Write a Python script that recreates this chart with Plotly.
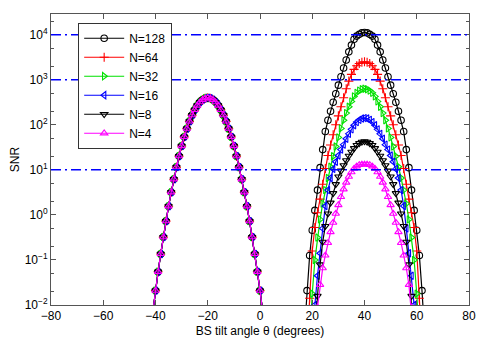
import plotly.graph_objects as go

# tilt angle grid (degrees): left lobe and right lobe
theta_left = list(range(-42, 3))
theta_right = list(range(17, 64))

# left lobe is the same for every N
left_lobe = [0.0026, 0.0076, 0.0209, 0.0546, 0.136, 0.322, 0.726, 1.56, 3.18, 6.19,
             11.5, 20.2, 33.9, 54.1, 82.2, 119, 164, 215, 269, 319, 361, 388,
             398,
             388, 361, 319, 269, 215, 164, 119, 82.2, 54.1, 33.9, 20.2, 11.5,
             6.19, 3.18, 1.56, 0.726, 0.322, 0.136, 0.0546, 0.0209, 0.0076, 0.0026]

# right lobe, per number of antennas N
snr_128 = [0.0025, 0.0209, 0.126, 0.457, 1.26, 3.55, 11.2, 28.2, 70.8, 126, 200, 316,
           490, 759, 1170, 1820, 2750, 4170, 5890, 7940, 9330, 10200, 11000,
           11200,
           11000, 10200, 9330, 7940, 5890, 4170, 2750, 1820, 1170, 759, 490,
           316, 200, 126, 70.8, 28.2, 11.2, 3.55, 1.26, 0.457, 0.126, 0.0209, 0.0025]
snr_64 = [0.0001, 0.001, 0.0141, 0.158, 0.525, 1.12, 2.24, 4.79, 10.7, 20.9, 35.5, 60.3,
          100, 158, 251, 398, 631, 933, 1320, 1700, 2040, 2290, 2450,
          2510,
          2450, 2290, 2040, 1700, 1320, 933, 631, 398, 251, 158, 100,
          60.3, 35.5, 20.9, 10.7, 4.79, 2.24, 1.12, 0.525, 0.158, 0.0141, 0.001, 0.0001]
snr_32 = [0.00002, 0.0002, 0.002, 0.0178, 0.1, 0.316, 0.794, 1.78, 3.55, 6.61, 11.7, 20.0,
          33.1, 52.5, 83.2, 126, 182, 251, 331, 427, 513, 575, 617,
          631,
          617, 575, 513, 427, 331, 251, 182, 126, 83.2, 52.5, 33.1,
          20.0, 11.7, 6.61, 3.55, 1.78, 0.794, 0.316, 0.1, 0.0178, 0.002, 0.0002, 0.00002]
snr_16 = [0.000001, 0.00001, 0.0001, 0.00126, 0.01, 0.0447, 0.141, 0.501, 1.58, 3.55, 6.61, 10.5,
          15.1, 20.9, 28.2, 36.3, 49.0, 63.1, 79.4, 97.7, 115, 129, 138,
          141,
          138, 129, 115, 97.7, 79.4, 63.1, 49.0, 36.3, 28.2, 20.9, 15.1,
          10.5, 6.61, 3.55, 1.58, 0.501, 0.141, 0.0447, 0.01, 0.00126, 0.0001, 0.00001, 0.000001]
snr_8 = [0.0000002, 0.000002, 0.00002, 0.0002, 0.002, 0.0158, 0.0794, 0.251, 0.562, 1.07, 1.86, 3.02,
         4.79, 7.08, 9.55, 12.6, 16.2, 20.4, 25.1, 30.2, 35.5, 38.9, 41.7,
         42.7,
         41.7, 38.9, 35.5, 30.2, 25.1, 20.4, 16.2, 12.6, 9.55, 7.08, 4.79,
         3.02, 1.86, 1.07, 0.562, 0.251, 0.0794, 0.0158, 0.002, 0.0002, 0.00002, 0.000002, 0.0000002]
snr_4 = [0.0000003, 0.000003, 0.00003, 0.0003, 0.002, 0.0089, 0.0282, 0.0661, 0.126, 0.24, 0.417, 0.676,
         1.07, 1.66, 2.51, 3.72, 5.25, 7.08, 8.91, 10.7, 12.0, 12.9, 13.2,
         13.2,
         13.2, 12.9, 12.0, 10.7, 8.91, 7.08, 5.25, 3.72, 2.51, 1.66, 1.07,
         0.676, 0.417, 0.24, 0.126, 0.0661, 0.0282, 0.0089, 0.002, 0.0003, 0.00003, 0.000003, 0.0000003]

names = ['N=128', 'N=64', 'N=32', 'N=16', 'N=8', 'N=4']
right_lobes = [snr_128, snr_64, snr_32, snr_16, snr_8, snr_4]
colors = ['#000000', '#ff0000', '#00e000', '#0000ff', '#000000', '#ff00ff']
symbols = ['circle-open', 'cross-thin-open', 'triangle-right-open',
           'triangle-left-open', 'triangle-down-open', 'triangle-up-open']

# horizontal reference levels
ref_levels = [1e4, 1e3, 1e1]

fig = go.Figure()
for name, right, col, sym in zip(names, right_lobes, colors, symbols):
    fig.add_trace(go.Scatter(
        x=theta_left + theta_right,
        y=left_lobe + right,
        mode='lines+markers',
        name=name,
        line=dict(color=col, width=1.2),
        marker=dict(symbol=sym, size=6.5, color=col, line=dict(color=col, width=1.1)),
    ))

for lvl in ref_levels:
    fig.add_shape(type='line', xref='paper', x0=0, x1=1, yref='y', y0=lvl, y1=lvl,
                  line=dict(color='#0000ff', width=1.5, dash='10px,4px,2px,4px'))

axis_font = dict(family='Liberation Sans, Arial', size=12, color='#000000')

fig.update_xaxes(range=[-80, 80], dtick=20, tick0=-80, automargin=False,
                 ticks='inside', ticklen=5, tickcolor='#555555',
                 showline=True, linecolor='#555555', linewidth=1, mirror='allticks',
                 showgrid=False, zeroline=False, tickfont=axis_font,
                 title=dict(text='BS tilt angle θ (degrees)', font=axis_font, standoff=9))
fig.update_yaxes(type='log', range=[-2, 4.46], automargin=False,
                 tickvals=[1e-2, 1e-1, 1, 1e1, 1e2, 1e3, 1e4],
                 ticktext=['10<sup>−2</sup>', '10<sup>−1</sup>', '10<sup>0</sup>', '10<sup>1</sup>',
                           '10<sup>2</sup>', '10<sup>3</sup>', '10<sup>4</sup>'],
                 ticks='inside', ticklen=5, tickcolor='#555555',
                 minor=dict(ticks='inside', ticklen=3, tickcolor='#555555', showgrid=False),
                 showline=True, linecolor='#555555', linewidth=1, mirror='allticks',
                 showgrid=False, zeroline=False, tickfont=axis_font,
                 title=dict(text='SNR', font=axis_font, standoff=8))

# the page body adds an 8px margin, so the plot area is shifted to match
fig.update_layout(
    width=483, height=330,
    margin=dict(l=43, r=22, t=6, b=33),
    paper_bgcolor='white', plot_bgcolor='white',
    font=axis_font,
    legend=dict(x=0.065, y=0.97, xanchor='left', yanchor='top',
                bgcolor='white', bordercolor='#333333', borderwidth=1,
                font=dict(family='Liberation Sans, Arial', size=12, color='#000000'),
                itemwidth=40, tracegroupgap=0),
    showlegend=True,
)

fig.write_html('out.html')
